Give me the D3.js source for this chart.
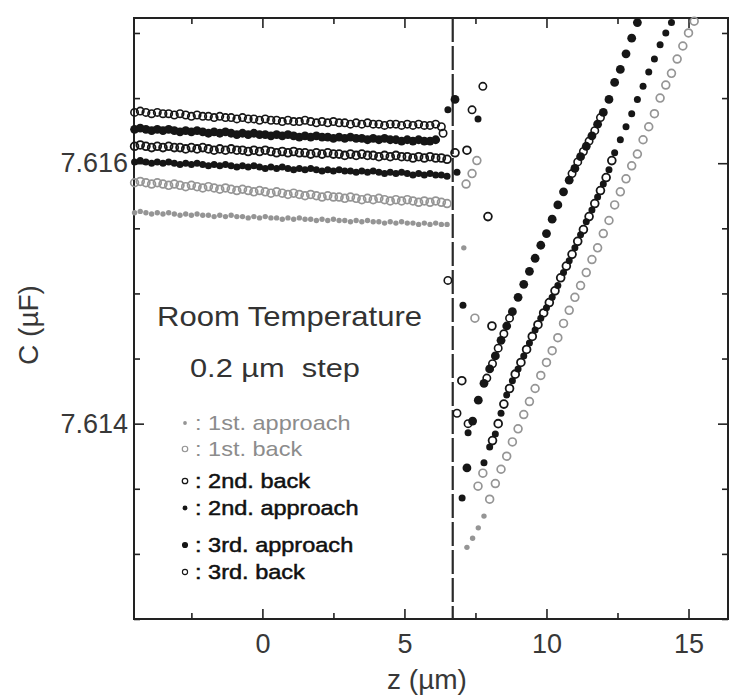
<!DOCTYPE html>
<html>
<head>
<meta charset="utf-8">
<script src="https://cdn.jsdelivr.net/npm/d3@7"></script>
<style>
  body { margin: 0; background: #fff; }
  svg { display: block; font-family: "Liberation Sans", Arial, sans-serif; }
</style>
</head>
<body>
<svg id="chart" width="731" height="695"></svg>
<script>
// ---- data: z in um, C in uF ----
var zFlat = [-4.5,-4.3,-4.1,-3.9,-3.7,-3.5,-3.3,-3.1,-2.9,-2.7,-2.5,-2.3,-2.1,-1.9,-1.7,-1.5,-1.3,-1.1,-0.9,-0.7,
  -0.5,-0.3,-0.1,0.1,0.3,0.5,0.7,0.9,1.1,1.3,1.5,1.7,1.9,2.1,2.3,2.5,2.7,2.9,3.1,3.3,
  3.5,3.7,3.9,4.1,4.3,4.5,4.7,4.9,5.1,5.3,5.5,5.7,5.9,6.1,6.3,6.5];
var zRight = [7.2,7.4,7.6,7.8,8.0,8.2,8.4,8.6,8.8,9.0,9.2,9.4,9.6,9.8,10.0,10.2,10.4,10.6,10.8,11.0,
  11.2,11.4,11.6,11.8,12.0,12.2,12.4,12.6,12.8,13.0,13.2,13.4,13.6,13.8,14.0,14.2,14.4,14.6,14.8,15.0,15.2];
var zMid = [7.8,8.0,8.2,8.4,8.6,8.8,9.0,9.2,9.4,9.6,9.8,10.0,10.2,10.4,10.6,10.8,11.0,11.2,11.4,11.6,
  11.8,12.0,12.2,12.4,12.6,12.8,13.0,13.2,13.4,13.6,13.8,14.0,14.2,14.4];
var zLeft = [7.2,7.4,7.6,7.8,8.0,8.2,8.4,8.6,8.8,9.0,9.2,9.4,9.6,9.8,10.0,10.2,10.4,10.6,10.8,11.0,
  11.2,11.4,11.6,11.8,12.0,12.2,12.4,12.6,12.8,13.0,13.2];
var zBack2 = [8.1,8.3,8.5,8.7,8.9,9.1,9.3,9.5,9.7,9.9,10.1,10.3,10.5,10.7,10.9,11.1,11.3,11.5,11.7,11.9,12.1,12.3];
var zBack3 = [7.9,8.1,8.3,8.5,8.7,10.9,11.1,11.3,11.5,11.7,11.9];

// 1st approach
var c1aFlat = [7.61562,7.61563,7.61562,7.61561,7.61562,7.61561,7.61562,7.61561,7.61560,7.61561,
  7.61560,7.61561,7.61560,7.61560,7.61559,7.61560,7.61559,7.61560,7.61559,7.61559,
  7.61558,7.61559,7.61558,7.61559,7.61558,7.61558,7.61557,7.61558,7.61557,7.61558,
  7.61557,7.61557,7.61556,7.61557,7.61556,7.61557,7.61556,7.61556,7.61555,7.61556,
  7.61555,7.61556,7.61555,7.61555,7.61554,7.61555,7.61554,7.61555,7.61554,7.61554,
  7.61553,7.61554,7.61553,7.61554,7.61553,7.61553];
var z1aJump = [7.09], c1aJump = [7.61535];
var c1aRamp = [7.61305,7.61312,7.61320,7.61329];

// 1st back
var c1bFlat = [7.61585,7.61586,7.61585,7.61584,7.61585,7.61584,7.61583,7.61584,7.61583,7.61582,
  7.61583,7.61582,7.61581,7.61582,7.61581,7.61580,7.61581,7.61580,7.61579,7.61580,
  7.61579,7.61578,7.61579,7.61578,7.61577,7.61578,7.61577,7.61576,7.61577,7.61576,
  7.61575,7.61576,7.61575,7.61574,7.61575,7.61574,7.61574,7.61573,7.61574,7.61573,
  7.61572,7.61573,7.61572,7.61573,7.61572,7.61571,7.61572,7.61571,7.61572,7.61571,
  7.61570,7.61571,7.61570,7.61571,7.61570,7.61569];
var z1bJump = [7.17,7.38,7.55,7.48,7.59,7.76], c1bJump = [7.61584,7.61592,7.61602,7.61481,7.61352,7.61362];
var c1bRamp = [7.61342,7.61354,7.61365,7.61375,7.61386,7.61396,7.61407,7.61417,7.61427,7.61437,
  7.61447,7.61456,7.61466,7.61477,7.61487,7.61497,7.61506,7.61516,7.61526,7.61535,
  7.61546,7.61556,7.61568,7.61578,7.61588,7.61598,7.61607,7.61618,7.61628,7.61638,
  7.61650,7.61660,7.61669,7.61680,7.61690,7.61700,7.61709];

// 2nd approach
var c2aFlat = [7.61601,7.61602,7.61601,7.61600,7.61601,7.61600,7.61601,7.61600,7.61599,7.61600,
  7.61599,7.61600,7.61599,7.61598,7.61599,7.61598,7.61599,7.61598,7.61597,7.61598,
  7.61597,7.61598,7.61597,7.61596,7.61597,7.61596,7.61597,7.61596,7.61595,7.61596,
  7.61595,7.61596,7.61595,7.61594,7.61595,7.61594,7.61595,7.61594,7.61594,7.61593,
  7.61594,7.61593,7.61594,7.61593,7.61592,7.61593,7.61592,7.61593,7.61592,7.61591,
  7.61592,7.61591,7.61592,7.61591,7.61591,7.61590];
var z2aJump = [6.85,6.53,7.59,7.06,7.24,7.03], c2aJump = [7.61593,7.61641,7.61634,7.61491,7.61393,7.61343];
var c2aRamp = [7.61370,7.61382,7.61392,7.61408,7.61422,7.61433,7.61442,7.61452,7.61462,7.61472,
  7.61481,7.61489,7.61497,7.61506,7.61516,7.61525,7.61535,7.61545,7.61555,7.61564,
  7.61574,7.61584,7.61595,7.61608,7.61618,7.61628,7.61638,7.61649,7.61659,7.61670,
  7.61680,7.61691,7.61700,7.61708];

// 2nd back
var c2bFlat = [7.61613,7.61614,7.61613,7.61612,7.61613,7.61612,7.61613,7.61612,7.61612,7.61611,
  7.61612,7.61611,7.61612,7.61611,7.61610,7.61611,7.61610,7.61611,7.61610,7.61610,
  7.61609,7.61610,7.61609,7.61610,7.61609,7.61608,7.61609,7.61608,7.61609,7.61608,
  7.61608,7.61607,7.61608,7.61607,7.61608,7.61607,7.61607,7.61606,7.61607,7.61606,
  7.61607,7.61606,7.61606,7.61605,7.61606,7.61605,7.61606,7.61605,7.61605,7.61604,
  7.61605,7.61604,7.61605,7.61604,7.61604,7.61603];
var z2bJump = [6.78,7.2,7.94,8.08,7.02], c2bJump = [7.61608,7.61610,7.61559,7.61475,7.61433];
var c2bRamp = [7.61387,7.61400,7.61415,7.61427,7.61438,7.61447,7.61457,7.61467,7.61476,7.61485,
  7.61493,7.61502,7.61512,7.61521,7.61530,7.61540,7.61549,7.61559,7.61569,7.61579,
  7.61589,7.61602];

// 3rd approach
var c3aFlat = [7.61626,7.61627,7.61626,7.61625,7.61626,7.61625,7.61626,7.61625,7.61624,7.61625,
  7.61624,7.61625,7.61624,7.61623,7.61624,7.61623,7.61624,7.61623,7.61622,7.61623,
  7.61622,7.61623,7.61622,7.61622,7.61621,7.61622,7.61621,7.61622,7.61621,7.61620,
  7.61621,7.61620,7.61621,7.61620,7.61620,7.61619,7.61620,7.61619,7.61620,7.61619,
  7.61619,7.61618,7.61619,7.61618,7.61619,7.61618,7.61618,7.61617,7.61618,7.61617,
  7.61618,7.61617,7.61617,7.61618];
var z3aJump = [6.78], c3aJump = [7.61649];
var c3aRamp = [7.61366,7.61402,7.61418,7.61431,7.61442,7.61452,7.61464,7.61475,7.61486,7.61497,
  7.61507,7.61517,7.61527,7.61537,7.61546,7.61557,7.61568,7.61578,7.61587,7.61596,
  7.61605,7.61613,7.61621,7.61630,7.61639,7.61649,7.61662,7.61672,7.61684,7.61696,7.61708];

// 3rd back
var c3bFlat = [7.61639,7.61640,7.61639,7.61638,7.61639,7.61638,7.61638,7.61637,7.61638,7.61637,
  7.61636,7.61637,7.61636,7.61636,7.61635,7.61636,7.61635,7.61635,7.61634,7.61635,
  7.61634,7.61634,7.61633,7.61634,7.61633,7.61633,7.61632,7.61633,7.61632,7.61632,
  7.61633,7.61632,7.61631,7.61632,7.61631,7.61632,7.61631,7.61631,7.61630,7.61631,
  7.61630,7.61631,7.61630,7.61630,7.61629,7.61630,7.61630,7.61629,7.61630,7.61629,
  7.61630,7.61629,7.61629,7.61630,7.61628];
var z3bJump = [6.36,7.76,7.38,6.53,6.85,7.24], c3bJump = [7.61623,7.61659,7.61641,7.61510,7.61408,7.61400];
var c3bRamp = [7.61435,7.61446,7.61458,7.61469,7.61481,7.61592,7.61601,7.61609,7.61617,7.61625,7.61635];

var xMajor = [0, 5, 10, 15];
var xMinor = [-2.5, 2.5, 7.5, 12.5];
var yMajor = [7.614, 7.616];
var yMinor = [7.6125, 7.613, 7.6135, 7.6145, 7.615, 7.6155, 7.6165, 7.617];
var contactZ = 6.7;

var legendLabels = [": 1st. approach", ": 1st. back", ": 2nd. back", ": 2nd. approach", ": 3rd. approach", ": 3rd. back"];
var legendKeys = ["1a", "1b", "2b", "2a", "3a", "3b"];

// ---- build ----
function pts(zs, cs) {
  return cs.map(function(c, i) { return [zs[i], c]; });
}

var series = [
  { key: "1a", points: pts(zFlat, c1aFlat).concat(pts(z1aJump, c1aJump), pts(zRight, c1aRamp)) },
  { key: "1b", points: pts(zFlat, c1bFlat).concat(pts(z1bJump, c1bJump), pts(zRight.slice(4), c1bRamp)) },
  { key: "2a", points: pts(zFlat, c2aFlat).concat(pts(z2aJump, c2aJump), pts(zMid, c2aRamp)) },
  { key: "2b", points: pts(zFlat, c2bFlat).concat(pts(z2bJump, c2bJump), pts(zBack2, c2bRamp)) },
  { key: "3a", points: pts(zFlat, c3aFlat).concat(pts(z3aJump, c3aJump), pts(zLeft, c3aRamp)) },
  { key: "3b", points: pts(zFlat, c3bFlat).concat(pts(z3bJump, c3bJump), pts(zBack3, c3bRamp)) }
];

var styles = {
  "1a": { fill: "#959595", stroke: "none", sw: 0, r: 2.7 },
  "1b": { fill: "none", stroke: "#959595", sw: 1.7, r: 3.9 },
  "2a": { fill: "#161616", stroke: "none", sw: 0, r: 3.5 },
  "2b": { fill: "none", stroke: "#161616", sw: 1.8, r: 3.9 },
  "3a": { fill: "#161616", stroke: "none", sw: 0, r: 4.4 },
  "3b": { fill: "none", stroke: "#161616", sw: 1.6, r: 3.7 }
};

var svg = d3.select("#chart");
var pLeft = 134, pRight = 728, pTop = 18, pBottom = 619;

var x = d3.scaleLinear().domain([-4.52, 16.39]).range([pLeft, pRight]);
var y = d3.scaleLinear().domain([7.6125, 7.617115]).range([pBottom, pTop]);

// axes
function styleAxis(g) {
  g.select(".domain").remove();
  g.selectAll(".tick line").attr("stroke", "#222").attr("stroke-width", 1.6);
  g.selectAll(".tick text").attr("fill", "#383838").style("font-size", "27px")
    .style("font-family", "'Liberation Sans', Arial, sans-serif");
}

svg.append("g").attr("transform", "translate(0," + pBottom + ")")
  .call(d3.axisBottom(x).tickValues(xMajor).tickSizeInner(-10).tickSizeOuter(0).tickPadding(15).tickFormat(d3.format("d")))
  .call(styleAxis);
svg.append("g").attr("transform", "translate(0," + pBottom + ")")
  .call(d3.axisBottom(x).tickValues(xMinor).tickSizeInner(-6).tickSizeOuter(0).tickFormat(""))
  .call(styleAxis);
svg.append("g").attr("transform", "translate(0," + pTop + ")")
  .call(d3.axisTop(x).tickValues(xMajor).tickSizeInner(-10).tickSizeOuter(0).tickFormat(""))
  .call(styleAxis);
svg.append("g").attr("transform", "translate(0," + pTop + ")")
  .call(d3.axisTop(x).tickValues(xMinor).tickSizeInner(-6).tickSizeOuter(0).tickFormat(""))
  .call(styleAxis);

svg.append("g").attr("transform", "translate(" + pLeft + ",0)")
  .call(d3.axisLeft(y).tickValues(yMajor).tickSizeInner(-10).tickSizeOuter(0).tickPadding(6).tickFormat(d3.format(".3f")))
  .call(styleAxis);
svg.append("g").attr("transform", "translate(" + pLeft + ",0)")
  .call(d3.axisLeft(y).tickValues(yMinor).tickSizeInner(-6).tickSizeOuter(0).tickFormat(""))
  .call(styleAxis);
svg.append("g").attr("transform", "translate(" + pRight + ",0)")
  .call(d3.axisRight(y).tickValues(yMajor).tickSizeInner(-10).tickSizeOuter(0).tickFormat(""))
  .call(styleAxis);
svg.append("g").attr("transform", "translate(" + pRight + ",0)")
  .call(d3.axisRight(y).tickValues(yMinor).tickSizeInner(-6).tickSizeOuter(0).tickFormat(""))
  .call(styleAxis);

// frame
svg.append("rect")
  .attr("x", pLeft).attr("y", pTop)
  .attr("width", pRight - pLeft).attr("height", pBottom - pTop)
  .attr("fill", "none").attr("stroke", "#222").attr("stroke-width", 2);

// contact line
svg.append("line")
  .attr("x1", x(contactZ)).attr("x2", x(contactZ))
  .attr("y1", pTop).attr("y2", pBottom)
  .attr("stroke", "#2a2a2a").attr("stroke-width", 2.2)
  .attr("stroke-dasharray", "24,4");

// axis titles
svg.append("text")
  .attr("x", 427).attr("y", 689)
  .attr("text-anchor", "middle")
  .attr("fill", "#383838").style("font-size", "28px")
  .text("z (\u00b5m)");

svg.append("text")
  .attr("transform", "translate(38,325) rotate(-90)")
  .attr("text-anchor", "middle")
  .attr("fill", "#383838").style("font-size", "28px")
  .text("C (\u00b5F)");

// markers
function marker(sel, st, scale) {
  sel.attr("r", st.r * scale)
    .attr("fill", st.fill)
    .attr("stroke", st.stroke)
    .attr("stroke-width", st.sw * scale);
}

var plot = svg.append("g");
series.forEach(function(s) {
  var st = styles[s.key];
  plot.append("g").selectAll("circle")
    .data(s.points)
    .enter().append("circle")
      .attr("cx", function(d) { return x(d[0]); })
      .attr("cy", function(d) { return y(d[1]); })
      .call(marker, st, 1);
});

// annotation
svg.append("text")
  .attr("x", 157).attr("y", 326)
  .attr("fill", "#333").style("font-size", "28px")
  .attr("textLength", 265).attr("lengthAdjust", "spacingAndGlyphs")
  .text("Room Temperature");

svg.append("text")
  .attr("x", 190).attr("y", 377)
  .attr("fill", "#333").style("font-size", "26px")
  .style("white-space", "pre")
  .attr("textLength", 170).attr("lengthAdjust", "spacingAndGlyphs")
  .text("0.2 \u00b5m  step");

// legend
var legendY = [430, 456, 488, 515, 552, 579];
var lg = svg.append("g");
legendLabels.forEach(function(lab, i) {
  var key = legendKeys[i];
  var grey = key.charAt(0) === "1";
  lg.append("circle")
    .attr("cx", 185).attr("cy", legendY[i] - 7)
    .call(marker, styles[key], 0.7);
  var t = lg.append("text")
    .attr("x", 195).attr("y", legendY[i])
    .attr("fill", grey ? "#8c8c8c" : "#111")
    .attr("stroke", grey ? "none" : "#111")
    .attr("stroke-width", 0.5)
    .style("font-size", "21px")
    .text(lab);
  var w = t.node().getComputedTextLength();
  t.attr("textLength", w * 1.12).attr("lengthAdjust", "spacingAndGlyphs");
});
</script>
</body>
</html>
